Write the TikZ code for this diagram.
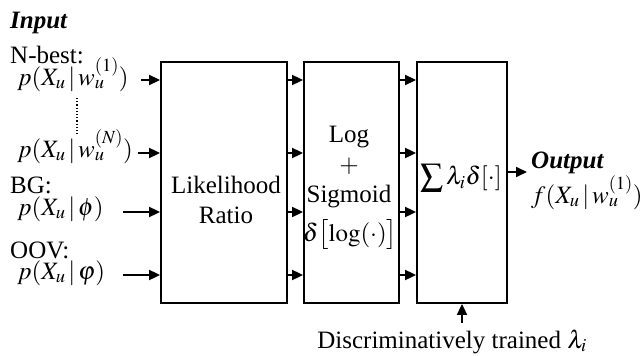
\documentclass[tikz,border=0pt]{standalone}
\usepackage{mathptmx}
\usepackage[no-math]{fontspec}
\setmainfont{Liberation Serif}
\usetikzlibrary{arrows.meta}
\begin{document}
\begin{tikzpicture}[x=1pt,y=-1pt,
  every node/.style={inner sep=0pt,font=\fontsize{25}{30}\selectfont},
  blk/.style={draw,line width=1.8pt,minimum width=#1,minimum height=241pt},
  arr/.style={line width=1.8pt,-{Triangle[length=11pt,width=10pt]}},
  lbl/.style={anchor=base west},
  ctr/.style={anchor=base}]
\useasboundingbox (0,0) rectangle (643,356);
% boxes
\node[blk=126pt] (b1) at (224,182.5) {};
\node[blk=95pt] (b2) at (351.5,182.5) {};
\node[blk=90pt] (b3) at (462,182.5) {};
% left texts
\node[lbl] (input) at (10,28) {\textbf{\textit{Input}}};
\node[lbl] (nbest) at (10,63) {N-best:};
\node[lbl] (p1) at (17,85) {$p(X_u\,|\,w_u^{(1)})$};
\node[lbl] (pN) at (17,157) {$p(X_u\,|\,w_u^{(N)})$};
\node[lbl] (bg) at (10,193) {BG:};
\node[lbl] (pbg) at (17,215) {$p(X_u\,|\,\phi)$};
\node[lbl] (oov) at (10,258) {OOV:};
\node[lbl] (poov) at (17,279) {$p(X_u\,|\,\varphi)$};
\coordinate (d1) at (77,98);
\coordinate (d2) at (77,136);
\draw[line width=1.2pt,dotted] (d1) -- (d2);
% input arrows
\coordinate (i1) at (141,80);
\coordinate (i2) at (138,153);
\coordinate (i3) at (123,212);
\coordinate (i4) at (123,275);
\foreach \c in {i1,i2,i3,i4} \draw[arr] (\c) -- (\c -| b1.west);
% between boxes
\foreach \yy in {80,153,212,275} {
  \draw[arr] (b1.east |- 0,\yy) -- (b2.west |- 0,\yy);
  \draw[arr] (b2.east |- 0,\yy) -- (b3.west |- 0,\yy);
}
% box texts
\node[ctr] (t1) at (226,193) {Likelihood};
\node[ctr] (t2) at (226,223) {Ratio};
\node[ctr] (t3) at (349,142) {Log};
\node[ctr] (t4) at (349,172) {$+$};
\node[ctr] (t5) at (349,202) {Sigmoid};
\node[ctr] (t6) at (350,241) {$\delta\bigl[\log(\cdot)\bigr]$};
\node[anchor=center] (t7) at (461,178) {$\mathop{\vcenter{\hbox{\scalebox{1.3}{$\sum$}}}}\lambda_i\delta[\cdot]$};
% output
\coordinate (o1) at (527,172);
\draw[arr] (b3.east |- o1) -- (o1);
\node[lbl] (out) at (531,168) {\textbf{\textit{Output}}};
\node[lbl] (fout) at (531,203) {$f(X_u\,|\,w_u^{(1)})$};
% bottom
\node[ctr] (disc) at (452,348) {Discriminatively trained $\lambda_i$};
\coordinate (bt) at (462,323);
\draw[arr] (bt) -- (b3.south);
\end{tikzpicture}
\end{document}
